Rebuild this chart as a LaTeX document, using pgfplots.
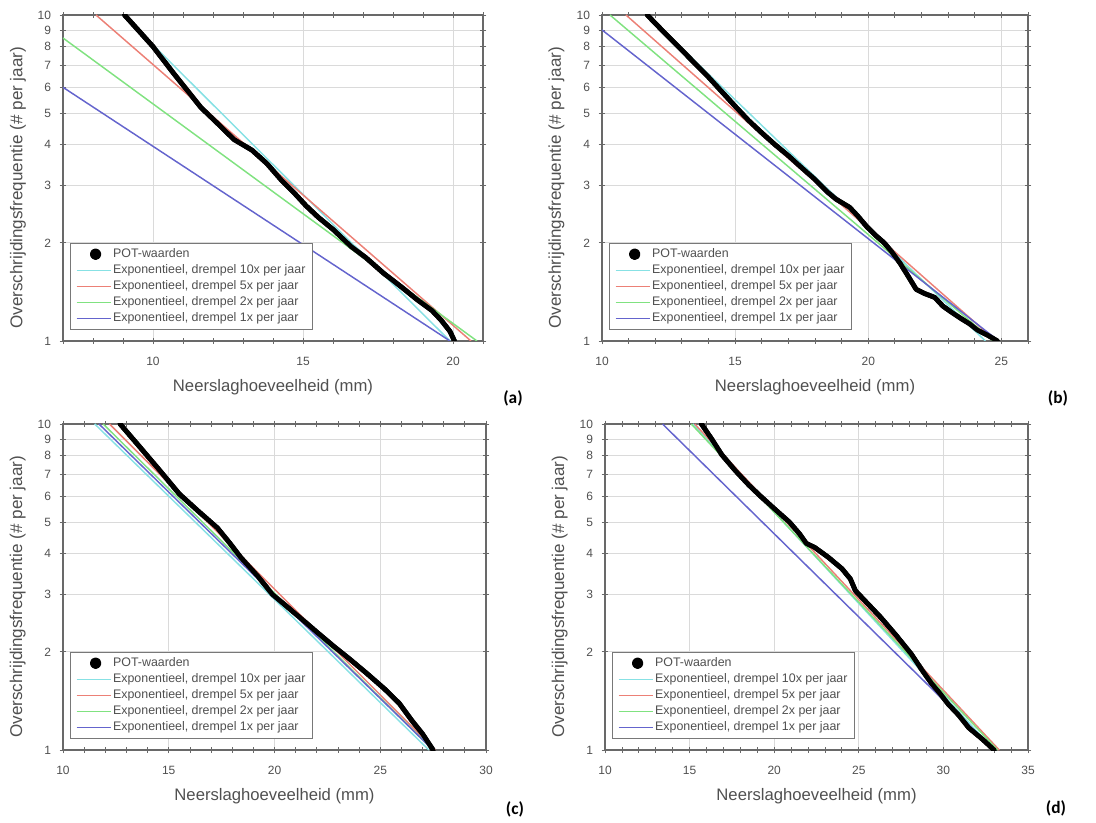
\documentclass[border=0pt]{standalone}
\usepackage{pgfplots}
\pgfplotsset{compat=1.18}
\usepackage{fontspec}
\setmainfont{Liberation Sans}[Color=505050]
\newfontfamily\carlito{Carlito}
\definecolor{cyanL}{RGB}{135,225,228}
\definecolor{redL}{RGB}{236,128,118}
\definecolor{greenL}{RGB}{128,226,128}
\definecolor{blueL}{RGB}{100,100,205}
\definecolor{gridc}{RGB}{218,218,218}
\definecolor{axisc}{RGB}{105,105,105}
\definecolor{legc}{RGB}{120,120,120}

% ---------- data ----------
\pgfplotstableread{
x y
9.05 10
9.5 9.0
10.0 8.0
10.7 6.6
11.6 5.2
12.1 4.7
12.7 4.15
13.3 3.85
13.8 3.5
14.3 3.1
14.7 2.85
15.1 2.6
15.5 2.4
16.0 2.2
16.6 1.95
17.1 1.80
17.7 1.61
18.3 1.46
18.8 1.34
19.3 1.24
19.6 1.16
19.9 1.07
20.05 1.0
}\dataA
\pgfplotstableread{
x y
11.7 10
12.3 8.9
13.0 7.8
14.0 6.45
15.0 5.25
15.5 4.75
16.0 4.35
16.5 4.0
17.0 3.7
17.5 3.4
18.0 3.13
18.5 2.85
18.8 2.72
19.3 2.57
19.6 2.42
19.95 2.24
20.3 2.1
20.6 2.0
20.9 1.87
21.2 1.73
21.5 1.58
21.8 1.44
22.1 1.40
22.5 1.36
22.8 1.28
23.1 1.23
23.5 1.17
23.8 1.13
24.1 1.08
24.5 1.04
24.85 1.0
}\dataB
\pgfplotstableread{
x y
12.7 10
13.6 8.55
14.5 7.3
15.5 6.1
16.4 5.4
17.3 4.8
17.9 4.3
18.4 3.9
19.2 3.42
19.9 3.0
20.6 2.75
21.2 2.55
22.0 2.3
22.8 2.08
23.6 1.89
24.4 1.71
25.2 1.54
25.9 1.39
26.5 1.23
27.0 1.12
27.5 1.0
}\dataC
\pgfplotstableread{
x y
15.7 10
16.3 9.0
16.9 8.05
17.7 7.2
18.5 6.5
19.2 6.0
20.0 5.5
20.9 5.0
21.5 4.6
21.9 4.3
22.4 4.18
23.2 3.9
24.0 3.6
24.5 3.35
24.8 3.08
25.5 2.82
26.3 2.55
27.2 2.25
28.1 1.97
28.7 1.77
29.3 1.6
29.8 1.49
30.3 1.38
30.9 1.28
31.5 1.17
32.3 1.08
33.0 1.0
}\dataD

\pgfplotsset{
 every axis/.append style={
  scale only axis,
  height=244.5pt,
  ymin=1, ymax=10,
  ytick={1,2,3,4,5,6,7,8,9,10},
  yticklabels={1,2,3,4,5,6,7,8,9,10},
  /pgf/number format/assume math mode=true,
  grid=major,
  major grid style={draw=gridc, line width=0.6pt},
  axis line style={draw=axisc, line width=0.9pt},
  tick style={draw=axisc, line width=0.6pt},
  tick align=center,
  major tick length=5pt, minor tick length=4pt,
  ticklabel style={font=\fontsize{9}{10}\selectfont},
  xticklabel style={anchor=center, yshift=-13pt},
  yticklabel style={anchor=east, xshift=-3pt},
  xlabel style={font=\fontsize{12.5}{14}\selectfont,
     at={(axis description cs:0.5,-0.143)}, anchor=center},
  ylabel style={font=\fontsize{12.8}{14}\selectfont,
     at={(axis description cs:-0.107,0.47)}, anchor=center},
  legend cell align=left,
  legend style={at={(rel axis cs:0.017,0.034)}, anchor=south west,
     draw=legc, line width=0.6pt, fill=white,
     font=\fontsize{9.3}{10}\selectfont,
     inner xsep=4pt, inner ysep=3pt, row sep=1.4pt,
     nodes={inner sep=1.2pt}},
 },
}

\begin{document}
\begin{tikzpicture}
\path[use as bounding box] (0,0) rectangle (822pt,616.5pt);

% ---------------- (a) ----------------
\begin{semilogyaxis}[at={(47.25pt,360.75pt)}, anchor=south west, width=315pt,
  yminorticks=false,
  xlabel={Neerslaghoeveelheid (mm)},
  ylabel={Overschrijdingsfrequentie (\# per jaar)},
  xmin=7, xmax=21, xtick={10,15,20}, minor xtick={7,8,...,21}]
\addplot[draw=black, line width=3.6pt, line join=round, line cap=round,
  legend image code/.code={\fill[fill=black] (0.5cm,0cm) circle (2.5pt);}] table {\dataA};
\addlegendentry{POT-waarden}
\addplot[draw=cyanL, line width=1.1pt,
  legend image code/.code={\draw[draw=cyanL, line width=1.1pt] (0cm,0cm) -- (0.9cm,0cm);}] coordinates {(9.0,10) (19.9,1)};
\addlegendentry{Exponentieel, drempel 10x per jaar}
\addplot[draw=redL, line width=1.1pt,
  legend image code/.code={\draw[draw=redL, line width=1.1pt] (0cm,0cm) -- (0.9cm,0cm);}] coordinates {(8.1,10) (20.6,1)};
\addlegendentry{Exponentieel, drempel 5x per jaar}
\addplot[draw=greenL, line width=1.1pt,
  legend image code/.code={\draw[draw=greenL, line width=1.1pt] (0cm,0cm) -- (0.9cm,0cm);}] coordinates {(7,8.5) (20.8,1)};
\addlegendentry{Exponentieel, drempel 2x per jaar}
\addplot[draw=blueL, line width=1.1pt,
  legend image code/.code={\draw[draw=blueL, line width=1.1pt] (0cm,0cm) -- (0.9cm,0cm);}] coordinates {(7,6.0) (19.9,1)};
\addlegendentry{Exponentieel, drempel 1x per jaar}
\addplot[draw=black, line width=3.6pt, line join=round, line cap=round, forget plot] table {\dataA};
\end{semilogyaxis}

% ---------------- (b) ----------------
\begin{semilogyaxis}[at={(451.5pt,360.75pt)}, anchor=south west, width=319.5pt,
  yminorticks=false,
  xlabel={Neerslaghoeveelheid (mm)},
  ylabel={Overschrijdingsfrequentie (\# per jaar)},
  xmin=10, xmax=26, xtick={10,15,20,25}, minor xtick={10,11,...,26}]
\addplot[draw=black, line width=3.6pt, line join=round, line cap=round,
  legend image code/.code={\fill[fill=black] (0.5cm,0cm) circle (2.5pt);}] table {\dataB};
\addlegendentry{POT-waarden}
\addplot[draw=cyanL, line width=1.1pt,
  legend image code/.code={\draw[draw=cyanL, line width=1.1pt] (0cm,0cm) -- (0.9cm,0cm);}] coordinates {(11.7,10) (24.4,1)};
\addlegendentry{Exponentieel, drempel 10x per jaar}
\addplot[draw=redL, line width=1.1pt,
  legend image code/.code={\draw[draw=redL, line width=1.1pt] (0cm,0cm) -- (0.9cm,0cm);}] coordinates {(10.9,10) (24.8,1)};
\addlegendentry{Exponentieel, drempel 5x per jaar}
\addplot[draw=greenL, line width=1.1pt,
  legend image code/.code={\draw[draw=greenL, line width=1.1pt] (0cm,0cm) -- (0.9cm,0cm);}] coordinates {(10.3,10) (24.7,1)};
\addlegendentry{Exponentieel, drempel 2x per jaar}
\addplot[draw=blueL, line width=1.1pt,
  legend image code/.code={\draw[draw=blueL, line width=1.1pt] (0cm,0cm) -- (0.9cm,0cm);}] coordinates {(10,9.0) (24.9,1)};
\addlegendentry{Exponentieel, drempel 1x per jaar}
\addplot[draw=black, line width=3.6pt, line join=round, line cap=round, forget plot] table {\dataB};
\end{semilogyaxis}

% ---------------- (c) ----------------
\begin{semilogyaxis}[at={(47.25pt,54pt)}, anchor=south west, width=317.25pt,
  yminorticks=false,
  xlabel={Neerslaghoeveelheid (mm)},
  ylabel={Overschrijdingsfrequentie (\# per jaar)},
  xmin=10, xmax=30, xtick={10,15,20,25,30}, minor xtick={10,11,...,30}]
\addplot[draw=black, line width=3.6pt, line join=round, line cap=round,
  legend image code/.code={\fill[fill=black] (0.5cm,0cm) circle (2.5pt);}] table {\dataC};
\addlegendentry{POT-waarden}
\addplot[draw=cyanL, line width=1.1pt,
  legend image code/.code={\draw[draw=cyanL, line width=1.1pt] (0cm,0cm) -- (0.9cm,0cm);}] coordinates {(11.5,10) (27.3,1)};
\addlegendentry{Exponentieel, drempel 10x per jaar}
\addplot[draw=redL, line width=1.1pt,
  legend image code/.code={\draw[draw=redL, line width=1.1pt] (0cm,0cm) -- (0.9cm,0cm);}] coordinates {(12.2,10) (27.6,1)};
\addlegendentry{Exponentieel, drempel 5x per jaar}
\addplot[draw=greenL, line width=1.1pt,
  legend image code/.code={\draw[draw=greenL, line width=1.1pt] (0cm,0cm) -- (0.9cm,0cm);}] coordinates {(11.9,10) (27.5,1)};
\addlegendentry{Exponentieel, drempel 2x per jaar}
\addplot[draw=blueL, line width=1.1pt,
  legend image code/.code={\draw[draw=blueL, line width=1.1pt] (0cm,0cm) -- (0.9cm,0cm);}] coordinates {(11.7,10) (27.5,1)};
\addlegendentry{Exponentieel, drempel 1x per jaar}
\addplot[draw=black, line width=3.6pt, line join=round, line cap=round, forget plot] table {\dataC};
\end{semilogyaxis}

% ---------------- (d) ----------------
\begin{semilogyaxis}[at={(453.75pt,54pt)}, anchor=south west, width=317.25pt,
  yminorticks=false,
  xlabel={Neerslaghoeveelheid (mm)},
  ylabel={Overschrijdingsfrequentie (\# per jaar)},
  xmin=10, xmax=35, xtick={10,15,20,25,30,35}, minor xtick={10,11,...,35}]
\addplot[draw=black, line width=3.6pt, line join=round, line cap=round,
  legend image code/.code={\fill[fill=black] (0.5cm,0cm) circle (2.5pt);}] table {\dataD};
\addlegendentry{POT-waarden}
\addplot[draw=cyanL, line width=1.1pt,
  legend image code/.code={\draw[draw=cyanL, line width=1.1pt] (0cm,0cm) -- (0.9cm,0cm);}] coordinates {(15.2,10) (33.0,1)};
\addlegendentry{Exponentieel, drempel 10x per jaar}
\addplot[draw=redL, line width=1.1pt,
  legend image code/.code={\draw[draw=redL, line width=1.1pt] (0cm,0cm) -- (0.9cm,0cm);}] coordinates {(15.3,10) (33.3,1)};
\addlegendentry{Exponentieel, drempel 5x per jaar}
\addplot[draw=greenL, line width=1.1pt,
  legend image code/.code={\draw[draw=greenL, line width=1.1pt] (0cm,0cm) -- (0.9cm,0cm);}] coordinates {(15.1,10) (33.2,1)};
\addlegendentry{Exponentieel, drempel 2x per jaar}
\addplot[draw=blueL, line width=1.1pt,
  legend image code/.code={\draw[draw=blueL, line width=1.1pt] (0cm,0cm) -- (0.9cm,0cm);}] coordinates {(13.4,10) (33.0,1)};
\addlegendentry{Exponentieel, drempel 1x per jaar}
\addplot[draw=black, line width=3.6pt, line join=round, line cap=round, forget plot] table {\dataD};
\end{semilogyaxis}

\node[font=\carlito\bfseries\fontsize{13}{15}\selectfont] at (384.75pt,318pt) {(a)};
\node[font=\carlito\bfseries\fontsize{13}{15}\selectfont] at (793.5pt,318pt) {(b)};
\node[font=\carlito\bfseries\fontsize{13}{15}\selectfont] at (386.25pt,9.75pt) {(c)};
\node[font=\carlito\bfseries\fontsize{13}{15}\selectfont] at (792pt,10.5pt) {(d)};
\end{tikzpicture}
\end{document}
